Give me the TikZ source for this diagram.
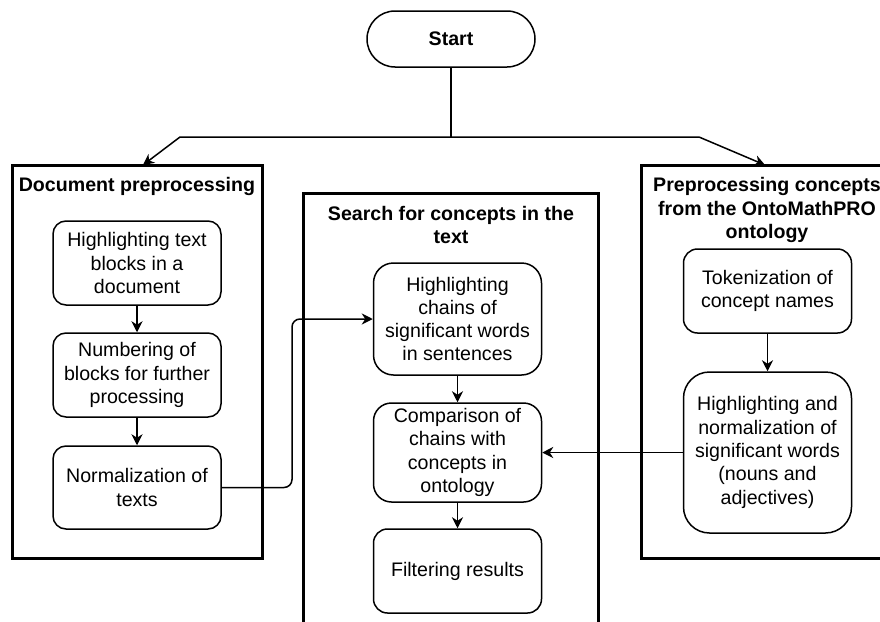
\documentclass[tikz,border=0pt]{standalone}
\usepackage{fontspec}
\setmainfont{Liberation Sans}
\usetikzlibrary{arrows.meta}
\begin{document}
\begin{tikzpicture}[x=1pt,y=-1pt,
  every node/.style={font=\fontsize{19.6}{23.3}\selectfont},
  cont/.style={draw, line width=3pt, inner sep=0pt},
  proc/.style={draw, line width=1.5pt, minimum width=168pt, inner sep=0pt, align=center},
  ttl/.style={font=\fontsize{19.6}{23.3}\selectfont\bfseries, align=center, inner sep=0pt},
  arr/.style={line width=1.5pt, -{Stealth[length=11pt,width=11pt,inset=3.5pt]}},
  ln/.style={line width=1.5pt}]
\useasboundingbox (0,0) rectangle (880,621);
\clip (0,0) rectangle (880,621);
\fill[white] (0,0) rectangle (880,621);

% containers
\node[cont, minimum width=250pt, minimum height=393pt] (Lc) at (137,361.5) {};
\node[cont, minimum width=295pt, minimum height=460pt] (Mc) at (450.5,423) {};
\node[cont, minimum width=252pt, minimum height=393pt] (Rc) at (767,361.5) {};

% titles
\node[ttl] (Lt) at (137,186) {Document preprocessing};
\node[ttl] (Mt) at (451,225) {Search for concepts in the\\text};
\node[ttl] (Rt) at (767,210) {Preprocessing concepts\\from the OntoMathPRO\\ontology};

% start
\node[draw, line width=1.5pt, rounded corners=28pt, minimum width=168pt, minimum height=56pt, font=\fontsize{19.6}{23.3}\selectfont\bfseries] (S) at (451,39) {Start};

% left boxes
\node[proc, rounded corners=13pt, minimum height=84pt] (L1) at (137,263) {Highlighting text\\blocks in a\\document};
\node[proc, rounded corners=13pt, minimum height=84pt] (L2) at (137,375) {Numbering of\\blocks for further\\processing};
\node[proc, rounded corners=13pt, minimum height=83pt] (L3) at (137,487.5) {Normalization of\\texts};

% middle boxes
\node[proc, rounded corners=20pt, minimum height=112pt] (M1) at (457.5,319) {Highlighting\\chains of\\significant words\\in sentences};
\node[proc, rounded corners=18pt, minimum height=99pt] (M2) at (457.5,452.5) {Comparison of\\chains with\\concepts in\\ontology};
\node[proc, rounded corners=14pt, minimum height=84pt] (M3) at (457.5,571) {Filtering results};

% right boxes
\node[proc, rounded corners=14pt, minimum height=84pt] (R1) at (767.5,291) {Tokenization of\\concept names};
\node[proc, rounded corners=26pt, minimum height=161pt] (R2) at (767.5,452.5) {Highlighting and\\normalization of\\significant words\\(nouns and\\adjectives)};

% coordinates
\coordinate (sp) at (451,137);
\coordinate (jl) at (180,137);
\coordinate (jr) at (699,137);
\coordinate (tl) at (143,165);
\coordinate (tr) at (765,165);
\coordinate (bx) at (292,0);

% connectors
\draw[ln] (S.south) -- (sp);
\draw[arr] (sp) -- (jl) -- (tl);
\draw[arr] (sp) -- (jr) -- (tr);
\draw[arr] (L1.south) -- (L2.north);
\draw[arr] (L2.south) -- (L3.north);
\draw[arr, rounded corners=8pt] (L3.east) -- (L3.east -| bx) -- (bx |- M1.west) -- (M1.west);
\draw[arr] (M1.south) -- (M2.north);
\draw[arr] (M2.south) -- (M3.north);
\draw[arr] (R1.south) -- (R2.north);
\draw[arr] (R2.west) -- (M2.east);
\end{tikzpicture}
\end{document}
